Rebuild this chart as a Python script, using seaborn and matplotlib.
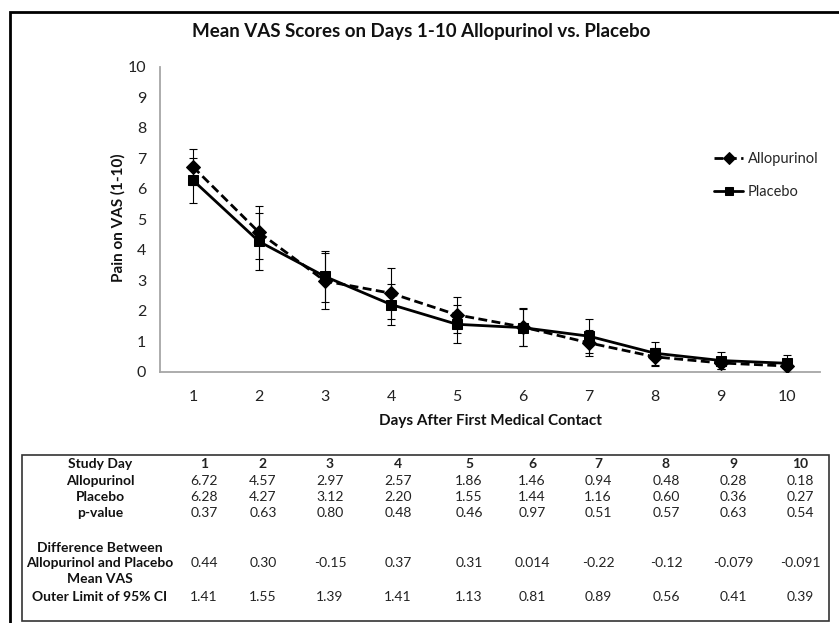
import numpy as np
import pandas as pd
import matplotlib
matplotlib.use("Agg")
import matplotlib.pyplot as plt
from matplotlib.patches import Rectangle
import seaborn as sns

# ---- data ----
days = [1, 2, 3, 4, 5, 6, 7, 8, 9, 10]
allopurinol = [6.72, 4.57, 2.97, 2.57, 1.86, 1.46, 0.94, 0.48, 0.28, 0.18]
placebo = [6.28, 4.27, 3.12, 2.20, 1.55, 1.44, 1.16, 0.60, 0.36, 0.27]
allo_err = [0.59, 0.86, 0.91, 0.83, 0.60, 0.63, 0.43, 0.29, 0.20, 0.18]
plac_err = [0.73, 0.94, 0.85, 0.67, 0.62, 0.60, 0.56, 0.38, 0.27, 0.27]
yticks = [0, 1, 2, 3, 4, 5, 6, 7, 8, 9, 10]

p_values = ["0.37", "0.63", "0.80", "0.48", "0.46", "0.97", "0.51", "0.57", "0.63", "0.54"]
differences = ["0.44", "0.30", "-0.15", "0.37", "0.31", "0.014", "-0.22", "-0.12", "-0.079", "-0.091"]
ci_limits = ["1.41", "1.55", "1.39", "1.41", "1.13", "0.81", "0.89", "0.56", "0.41", "0.39"]
allo_labels = ["6.72", "4.57", "2.97", "2.57", "1.86", "1.46", "0.94", "0.48", "0.28", "0.18"]
plac_labels = ["6.28", "4.27", "3.12", "2.20", "1.55", "1.44", "1.16", "0.60", "0.36", "0.27"]

title = "Mean VAS Scores on Days 1-10 Allopurinol vs. Placebo"
ylabel = "Pain on VAS (1-10)"
xlabel = "Days After First Medical Contact"

df = pd.DataFrame({
    "Day": days * 2,
    "VAS": allopurinol + placebo,
    "Group": ["Allopurinol"] * len(days) + ["Placebo"] * len(days),
})

sns.set_style("white")
plt.rcParams["font.family"] = ["Lato", "DejaVu Sans"]

W, H = 839, 623
fig = plt.figure(figsize=(W / 100, H / 100), dpi=100)
ax = fig.add_axes([160 / W, 1 - 371.5 / H, 660 / W, 304.5 / H])

sns.lineplot(data=df, x="Day", y="VAS", hue="Group", style="Group",
             palette={"Allopurinol": "black", "Placebo": "black"},
             markers={"Allopurinol": "D", "Placebo": "s"},
             dashes={"Allopurinol": (3.2, 1.6), "Placebo": ""},
             markersize=7.5, linewidth=2.0, markeredgecolor="black",
             ax=ax, zorder=3)

ax.errorbar(days, allopurinol, yerr=allo_err, fmt="none", ecolor="black",
            elinewidth=0.8, capsize=3, capthick=0.8, zorder=2)
ax.errorbar(days, placebo, yerr=plac_err, fmt="none", ecolor="black",
            elinewidth=0.8, capsize=3, capthick=0.8, zorder=2)

ax.set_xlim(0.5, 10.5)
ax.set_ylim(0, 10)
ax.set_xticks(days)
ax.set_yticks(yticks)
ax.tick_params(axis="both", length=0, labelsize=11.5, colors="#222222")
ax.tick_params(axis="x", pad=13)
ax.tick_params(axis="y", pad=10)
for s in ["top", "right"]:
    ax.spines[s].set_visible(False)
for s in ["left", "bottom"]:
    ax.spines[s].set_color("#a6a6a6")
    ax.spines[s].set_linewidth(1.3)
ax.set_xlabel("")
ax.set_ylabel("")

fig.text(421 / W, 1 - 31 / H, title, ha="center", va="center",
         fontsize=13.5, fontweight="bold", color="#111111")
fig.text(118 / W, 1 - 218 / H, ylabel, ha="center", va="center",
         rotation=90, fontsize=11, fontweight="bold", color="#111111")
fig.text(490 / W, 1 - 421 / H, xlabel, ha="center", va="center",
         fontsize=11, fontweight="bold", color="#111111")

leg = ax.legend(loc="upper left", bbox_to_anchor=(701 / W, 1 - 139 / H),
                bbox_transform=fig.transFigure, frameon=False, fontsize=10.5,
                handlelength=2.0, labelspacing=1.3, handletextpad=0.3)
for h in leg.legend_handles:
    h.set_markersize(6)

# outer frame
fig.patches.append(Rectangle((10 / W, -0.05), 1.0, 1 - 12 / H + 0.05,
                             transform=fig.transFigure, fill=False,
                             edgecolor="black", linewidth=2.0))
# table frame
fig.patches.append(Rectangle((22 / W, 1 - 621 / H), (829 - 22) / W, (621 - 455) / H,
                             transform=fig.transFigure, fill=False,
                             edgecolor="#333333", linewidth=1.2))

col_x = [204, 263, 330, 398, 469, 532, 598, 666, 733, 800]
label_x = 100
fs = 10

def row(y, label, values, bold_vals=False):
    if label:
        fig.text(label_x / W, 1 - y / H, label, ha="center", va="center",
                 fontsize=fs, fontweight="bold", color="#111111")
    for cx, v in zip(col_x, values):
        fig.text(cx / W, 1 - y / H, v, ha="center", va="center", fontsize=fs,
                 fontweight="bold" if bold_vals else "normal", color="#222222")

row(464, "Study Day", [str(d) for d in days], bold_vals=True)
row(481, "Allopurinol", allo_labels)
row(497, "Placebo", plac_labels)
row(513, "p-value", p_values)
fig.text(label_x / W, 1 - 548 / H, "Difference Between", ha="center", va="center",
         fontsize=fs, fontweight="bold", color="#111111")
row(563, "Allopurinol and Placebo", differences)
fig.text(label_x / W, 1 - 579 / H, "Mean VAS", ha="center", va="center",
         fontsize=fs, fontweight="bold", color="#111111")
row(597, "Outer Limit of 95% CI", ci_limits)

fig.savefig("out.png", dpi=100, facecolor="white")
